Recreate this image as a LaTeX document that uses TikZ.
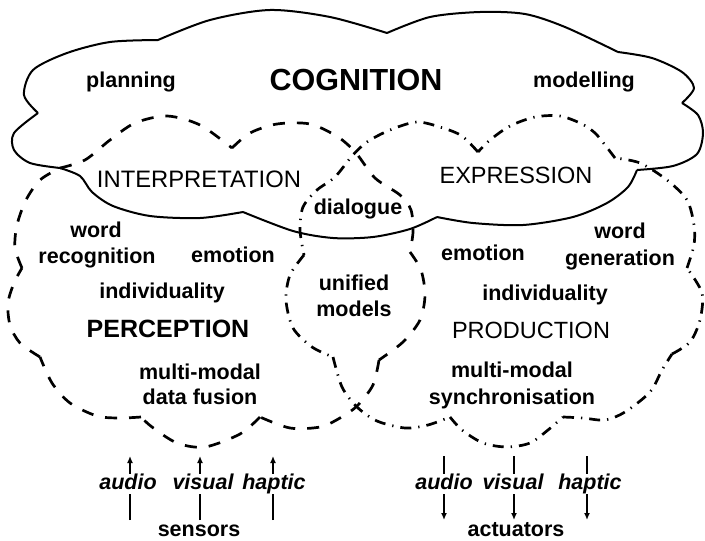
\documentclass[tikz,border=0pt]{standalone}
\usepackage{fontspec}
\setmainfont{Liberation Sans}
\usetikzlibrary{arrows.meta}
\begin{document}
\begin{tikzpicture}[x=1pt,y=-1pt,
  cog/.style={line width=2pt, line join=round},
  perc/.style={line width=2.7pt, dash pattern=on 12pt off 12pt},
  prod/.style={line width=2.7pt, dash pattern=on 11pt off 7pt on 1.3pt off 7pt},
  lbl/.style={font=\fontsize{21.5}{26}\selectfont\bfseries, anchor=base, inner sep=0pt},
  capr/.style={font=\fontsize{#1}{#1}\selectfont, anchor=base, inner sep=0pt},
  capb/.style={font=\fontsize{#1}{#1}\selectfont\bfseries, anchor=base, inner sep=0pt},
  io/.style={font=\fontsize{21.5}{26}\selectfont\bfseries\itshape, anchor=base, inner sep=0pt,
    fill=white, text height=15pt, text depth=5pt},
  sig/.style={line width=2pt, -{Latex[length=7pt,width=6pt]}}
]
\useasboundingbox (0,0) rectangle (705,541);

% COGNITION cloud (solid)
\draw[cog] plot[smooth] coordinates {(158,40) (210,20) (270,10) (330,17) (387,33)};
\draw[cog] plot[smooth] coordinates {(387,33) (430,17) (480,12) (525,14) (565,27) (618,52)};
\draw[cog] plot[smooth] coordinates {(618,52) (652,58) (682,72) (694,88) (682,103)};
\draw[cog] plot[smooth] coordinates {(682,103) (698,115) (703,133) (697,154) (673,166) (637,170)};
\draw[cog] plot[smooth] coordinates {(637,170) (628,187) (607,203) (573,217) (523,225) (473,223) (437,217)};
\draw[cog] plot[smooth] coordinates {(437,217) (410,229) (373,237) (333,238) (293,231) (243,212)};
\draw[cog] plot[smooth] coordinates {(243,212) (200,218) (150,216) (113,206) (92,192) (80,176) (60,168)};
\draw[cog] plot[smooth] coordinates {(60,168) (30,163) (14,150) (14,133) (38,113)};
\draw[cog] plot[smooth] coordinates {(38,113) (24,95) (33,70) (67,53) (110,42) (158,40)};

% PERCEPTION cloud (dashed)
\draw[perc] plot[smooth] coordinates {(60,168) (85,160) (110,140) (135,123) (167,116) (200,125) (232,148)};
\draw[perc] plot[smooth] coordinates {(232,148) (250,133) (277,124) (310,124) (338,137) (356,153) (375,178) (400,195) (411,210) (413,232) (410,252)};
\draw[perc] plot[smooth] coordinates {(410,252) (421,270) (425,295) (420,320) (403,342) (379,360)};
\draw[perc] plot[smooth] coordinates {(379,360) (373,385) (357,406) (340,418) (320,427) (290,428) (260,417)};
\draw[perc] plot[smooth] coordinates {(260,417) (240,434) (205,447) (177,443) (152,427) (141,417)};
\draw[perc] plot[smooth] coordinates {(141,417) (120,418) (97,416) (70,403) (52,383) (40,357)};
\draw[perc] plot[smooth] coordinates {(40,357) (20,343) (10,325) (8,303) (14,283) (22,268)};
\draw[perc] plot[smooth] coordinates {(22,268) (15,248) (17,225) (26,200) (40,180) (60,168)};

% PRODUCTION cloud (dash-dot)
\draw[prod] plot[smooth] coordinates {(478,152) (462,136) (443,128) (417,122) (390,130) (367,142) (352,156) (335,177) (317,190) (303,207) (300,230) (304,255)};
\draw[prod] plot[smooth] coordinates {(304,255) (290,275) (286,300) (293,328) (312,347) (333,357)};
\draw[prod] plot[smooth] coordinates {(333,357) (342,387) (357,407) (377,421) (405,428) (428,425) (450,417)};
\draw[prod] plot[smooth] coordinates {(450,417) (462,430) (483,443) (507,447) (530,443) (548,430) (563,417)};
\draw[prod] plot[smooth] coordinates {(563,417) (583,418) (605,420) (625,412) (650,392) (662,370) (672,354)};
\draw[prod] plot[smooth] coordinates {(672,354) (690,342) (700,320) (702,293) (687,268)};
\draw[prod] plot[smooth] coordinates {(687,268) (694,245) (694,225) (687,200) (667,180) (640,163) (615,158)};
\draw[prod] plot[smooth] coordinates {(615,158) (605,145) (595,133) (582,124) (560,116) (535,117) (510,126) (490,140) (478,152)};

% labels
\node[lbl] (planning) at (131,87) {planning};
\node[capb=30.5] (cognition) at (356,90) {COGNITION};
\node[lbl] (modelling) at (584,87) {modelling};
\node[capr=23.8] (interp) at (199,187) {INTERPRETATION};
\node[capr=23.5] (expr) at (516,183) {EXPRESSION};
\node[lbl] (dialogue) at (358,214) {dialogue};
\node[lbl] (wordL) at (96,237) {word};
\node[lbl] (recog) at (97,263) {recognition};
\node[lbl] (emoL) at (233,262) {emotion};
\node[lbl] (indL) at (162,298) {individuality};
\node[capb=25] (perc) at (168,337) {PERCEPTION};
\node[lbl] (mmL) at (200,379) {multi-modal};
\node[lbl] (fusion) at (200,404) {data fusion};
\node[lbl] (unified) at (354,290) {unified};
\node[lbl] (models) at (354,316) {models};
\node[lbl] (emoR) at (483,260) {emotion};
\node[lbl] (wordR) at (620,238) {word};
\node[lbl] (gen) at (620,265) {generation};
\node[lbl] (indR) at (545,300) {individuality};
\node[capr=23.5] (prod) at (531,338) {PRODUCTION};
\node[lbl] (mmR) at (512,377) {multi-modal};
\node[lbl] (sync) at (512,404) {synchronisation};

% sensors / actuators
\coordinate (sa0) at (130,520); \coordinate (sa1) at (130,456);
\coordinate (sv0) at (200,520); \coordinate (sv1) at (200,456);
\coordinate (sh0) at (273,520); \coordinate (sh1) at (273,456);
\coordinate (aa0) at (444,456); \coordinate (aa1) at (444,520);
\coordinate (av0) at (514,456); \coordinate (av1) at (514,520);
\coordinate (ah0) at (587,456); \coordinate (ah1) at (587,520);
\draw[sig] (sa0) -- (sa1);
\draw[sig] (sv0) -- (sv1);
\draw[sig] (sh0) -- (sh1);
\draw[sig] (aa0) -- (aa1);
\draw[sig] (av0) -- (av1);
\draw[sig] (ah0) -- (ah1);
\node[io] (audioL) at (128,489) {audio};
\node[io] (visualL) at (203,489) {visual};
\node[io] (hapticL) at (274,489) {haptic};
\node[lbl] (sensors) at (199,536) {sensors};
\node[io] (audioR) at (444,489) {audio};
\node[io] (visualR) at (513,489) {visual};
\node[io] (hapticR) at (590,489) {haptic};
\node[lbl] (actuators) at (516,536) {actuators};
\end{tikzpicture}
\end{document}
